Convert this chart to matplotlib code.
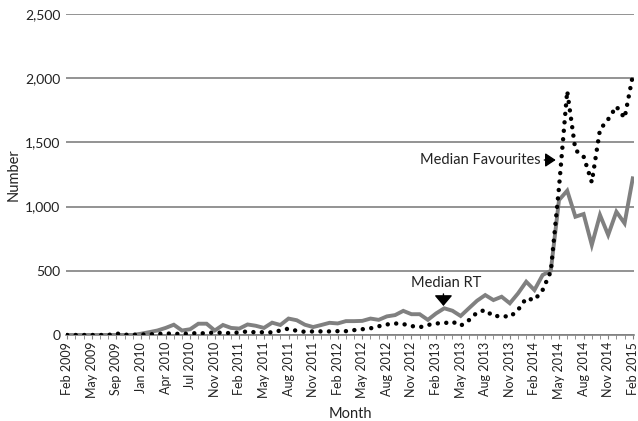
import numpy as np
import pandas as pd
import matplotlib
matplotlib.use('Agg')
import matplotlib.pyplot as plt

plt.rcParams['font.family'] = ['Lato', 'DejaVu Sans']

# months on the x axis (three months have no data in the source)
all_months = pd.date_range('2009-02-01', '2015-02-01', freq='MS')
missing = ['2009-07', '2009-11', '2010-09']
months = [m.strftime('%b %Y') for m in all_months if m.strftime('%Y-%m') not in missing]

# median retweets per month
median_rt = [0, 0, 0, 0, 0, 0, 0, 0, 0, 10,
             22, 35, 55, 80, 35, 45, 88, 88, 35, 78,
             55, 50, 82, 72, 55, 96, 78, 128, 115, 80,
             62, 78, 95, 90, 108, 108, 110, 128, 118, 145,
             155, 188, 162, 162, 118, 168, 208, 189, 148, 208,
             267, 311, 272, 298, 247, 324, 415, 350, 467, 500,
             1051, 1124, 921, 942, 701, 935, 779, 960, 870, 1220]

# median favourites per month
median_fav = [0, 0, 0, 0, 0, 0, 12, 2, 2, 3,
              5, 8, 12, 10, 8, 12, 15, 12, 22, 15,
              15, 20, 28, 20, 22, 20, 35, 50, 32, 25,
              28, 28, 28, 30, 30, 38, 45, 52, 68, 82,
              90, 85, 70, 60, 78, 90, 92, 104, 72, 115,
              175, 195, 145, 150, 140, 195, 286, 272, 350, 495,
              1150, 1900, 1440, 1390, 1190, 1600, 1680, 1780, 1690, 2020]

x = np.arange(len(months))

fig = plt.figure(figsize=(6.38, 4.21), dpi=100)
ax = fig.add_axes([66/638, 1-335/421, 568/638, 321/421])

ax.plot(x, median_rt, color='#808080', lw=2.8, solid_joinstyle='miter', zorder=3)
ax.plot(x, median_fav, color='black', lw=3.2, dashes=(0.01, 1.9),
        dash_capstyle='round', zorder=4)

ax.set_ylim(0, 2500)
ax.set_xlim(-0.15, len(months) - 1 + 0.15)
ax.set_yticks(np.arange(0, 2501, 500))
ax.set_yticklabels(['{:,}'.format(v) for v in range(0, 2501, 500)], fontsize=10)
ax.yaxis.grid(True, color='#808080', lw=1.2)
ax.set_axisbelow(True)
ax.tick_params(axis='y', length=0, pad=4, colors='#222222')

ax.set_xticks(x, minor=True)
ax.set_xticks(x[::3])
ax.set_xticklabels(months[::3], rotation=90, fontsize=9, color='#222222')
ax.tick_params(axis='x', which='both', length=3, color='#808080', pad=2)

for s in ['top', 'right', 'left']:
    ax.spines[s].set_visible(False)
ax.spines['bottom'].set_color('#808080')
ax.spines['bottom'].set_linewidth(1.2)

ax.set_xlabel('Month', fontsize=10.5, color='#222222', labelpad=6)
ax.set_ylabel('Number', fontsize=10.5, color='#222222', labelpad=3)

# annotations
ax.annotate('Median Favourites', xy=(59.6, 1363), xytext=(57.7, 1363),
            ha='right', va='center', fontsize=10.5, color='#222222',
            arrowprops=dict(arrowstyle='-|>,head_length=0.6,head_width=0.4',
                            color='black', lw=1, shrinkA=1, shrinkB=0))
ax.text(46.2, 405, 'Median RT', ha='center', va='center', fontsize=10.5, color='#222222')
ax.annotate('', xy=(45.9, 226), xytext=(45.9, 320),
            arrowprops=dict(arrowstyle='-|>,head_length=0.65,head_width=0.55',
                            color='black', lw=1, shrinkA=0, shrinkB=0))

plt.savefig('out.png', dpi=100)
